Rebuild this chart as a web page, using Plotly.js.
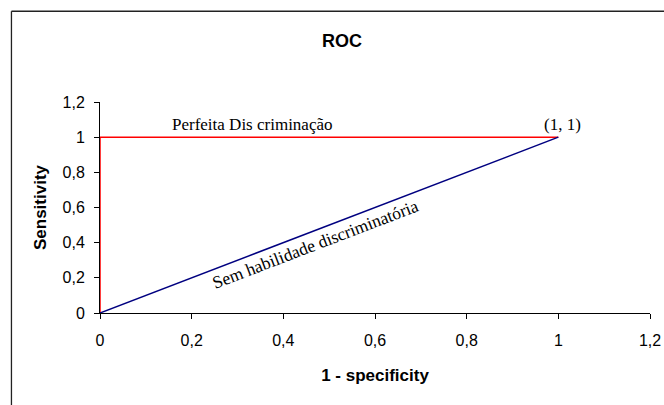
<!DOCTYPE html>
<html>
<head>
<meta charset="utf-8">
<script src="https://cdn.plot.ly/plotly-3.0.1.min.js"></script>
<style>
html,body{margin:0;padding:0;background:#fff;}
#chart{width:664px;height:405px;}
</style>
</head>
<body>
<div id="chart"></div>
<script>
// Data
var perfectX = [0, 0, 1];
var perfectY = [0, 1, 1];
var chanceX = [0, 1];
var chanceY = [0, 1];
var tickVals = [0, 0.2, 0.4, 0.6, 0.8, 1, 1.2];
var tickText = ['0', '0,2', '0,4', '0,6', '0,8', '1', '1,2'];
var chartTitle = 'ROC';
var xTitle = '1 - specificity';
var yTitle = 'Sensitivity';
var labelPerfect = 'Perfeita Dis criminação';
var labelPoint = '(1, 1)';
var labelChance = 'Sem habilidade discriminatória';

var traces = [
  {x: perfectX, y: perfectY, type: 'scatter', mode: 'lines',
   line: {color: '#ff0000', width: 1.5}, hoverinfo: 'skip', showlegend: false},
  {x: chanceX, y: chanceY, type: 'scatter', mode: 'lines',
   line: {color: '#000080', width: 1.5}, hoverinfo: 'skip', showlegend: false}
];

var sans = 'Liberation Sans, Arial, sans-serif';
var serif = 'Liberation Serif, Times New Roman, serif';

var layout = {
  width: 664, height: 405,
  margin: {l: 100, r: 14, t: 102, b: 92, pad: 0},
  paper_bgcolor: '#fff', plot_bgcolor: '#fff',
  showlegend: false,
  title: {text: '<b>' + chartTitle + '</b>', x: 342/664, xref: 'container', xanchor: 'center',
          y: 1 - 41/405, yref: 'container', yanchor: 'middle',
          font: {family: sans, size: 18, color: '#000'}},
  xaxis: {
    range: [0, 1.2], tickmode: 'array', tickvals: tickVals, ticktext: tickText,
    showgrid: false, zeroline: false, showline: true, linecolor: '#000', linewidth: 1,
    ticks: 'outside', ticklen: 5, tickcolor: '#000', tickwidth: 1,
    tickfont: {family: sans, size: 16, color: '#000'},
    ticklabelstandoff: 8,
    title: {text: '<b>' + xTitle + '</b>', standoff: 20, font: {family: sans, size: 17, color: '#000'}},
    automargin: false, fixedrange: true
  },
  yaxis: {
    range: [0, 1.2], tickmode: 'array', tickvals: tickVals, ticktext: tickText,
    showgrid: false, zeroline: false, showline: true, linecolor: '#000', linewidth: 1,
    ticks: 'outside', ticklen: 5, tickcolor: '#000', tickwidth: 1,
    tickfont: {family: sans, size: 16, color: '#000'},
    ticklabelstandoff: 6,
    title: {text: '<b>' + yTitle + '</b>', standoff: 11, font: {family: sans, size: 17, color: '#000'}},
    automargin: false, fixedrange: true
  },
  annotations: [
    {x: 0.152, y: 1, xref: 'x', yref: 'y', text: labelPerfect, showarrow: false,
     xanchor: 'left', yanchor: 'bottom', yshift: 1,
     font: {family: serif, size: 17, color: '#000'}},
    {x: 1.01, y: 1, xref: 'x', yref: 'y', text: labelPoint, showarrow: false,
     xanchor: 'center', yanchor: 'bottom', yshift: 1,
     font: {family: serif, size: 17, color: '#000'}},
    {x: 0.471, y: 0.39, xref: 'x', yref: 'y', text: labelChance, showarrow: false,
     xanchor: 'center', yanchor: 'middle', textangle: -21,
     font: {family: serif, size: 17.5, color: '#000'}}
  ],
  shapes: [
    {type: 'line', xref: 'paper', yref: 'paper', x0: -0.161, x1: -0.161, y0: -1, y1: 1.43,
     line: {color: '#222', width: 1.3}},
    {type: 'line', xref: 'paper', yref: 'paper', x0: -0.161, x1: 1.5, y0: 1.43, y1: 1.43,
     line: {color: '#222', width: 1.3}}
  ]
};

Plotly.newPlot('chart', traces, layout, {displayModeBar: false, staticPlot: true});
</script>
</body>
</html>
